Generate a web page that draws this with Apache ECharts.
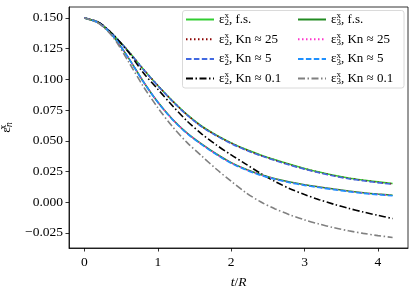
<!DOCTYPE html>
<html><head><meta charset="utf-8">
<script src="https://cdn.jsdelivr.net/npm/echarts@6/dist/echarts.min.js"></script>
<style>html,body{margin:0;padding:0;background:#fff}#c{width:415px;height:291px}</style>
</head><body><div id="c"></div>
<script>
const tVals = [0,0.2,0.4,0.6,0.8,1.0,1.2,1.4,1.6,1.8,2.0,2.2,2.4,2.6,2.8,3.0,3.2,3.4,3.6,3.8,4.0,4.2];
const e2_fs   = [0.150,0.1462,0.1358,0.1228,0.1085,0.0950,0.0825,0.0712,0.0618,0.0545,0.0483,0.0430,0.0385,0.0345,0.0308,0.0275,0.0245,0.0219,0.0197,0.0180,0.0165,0.0152];
const e2_kn25 = [0.150,0.1462,0.1358,0.1228,0.1085,0.0950,0.0824,0.0711,0.0616,0.0543,0.0481,0.0427,0.0382,0.0342,0.0305,0.0272,0.0242,0.0216,0.0194,0.0177,0.0162,0.0149];
const e2_kn5  = [0.150,0.1462,0.1358,0.1227,0.1083,0.0948,0.0822,0.0708,0.0613,0.0540,0.0477,0.0424,0.0379,0.0339,0.0302,0.0269,0.0239,0.0213,0.0191,0.0174,0.0159,0.0146];
const e2_kn01 = [0.150,0.1462,0.1358,0.1222,0.1055,0.0920,0.0785,0.0660,0.0555,0.0465,0.0385,0.0310,0.0235,0.0168,0.0110,0.0062,0.0020,-0.0017,-0.0050,-0.0080,-0.0107,-0.0133];
const e3_fs   = [0.150,0.1456,0.1345,0.1175,0.0985,0.0815,0.0675,0.0562,0.0472,0.0392,0.0322,0.0268,0.0225,0.0191,0.0164,0.0142,0.0124,0.0107,0.0091,0.0077,0.0066,0.0057];
const e3_kn25 = [0.150,0.1456,0.1345,0.1175,0.0985,0.0815,0.0674,0.0561,0.0471,0.0390,0.0320,0.0266,0.0223,0.0189,0.0162,0.0140,0.0122,0.0105,0.0089,0.0075,0.0064,0.0055];
const e3_kn5  = [0.150,0.1456,0.1345,0.1174,0.0983,0.0813,0.0672,0.0558,0.0468,0.0387,0.0317,0.0263,0.0220,0.0186,0.0159,0.0137,0.0119,0.0102,0.0086,0.0072,0.0061,0.0052];
const e3_kn01 = [0.150,0.1454,0.1335,0.1145,0.0945,0.0770,0.0615,0.0485,0.0375,0.0268,0.0170,0.0078,0.0003,-0.0055,-0.0103,-0.0144,-0.0178,-0.0208,-0.0233,-0.0254,-0.0272,-0.0287];
const xTicks = [0,1,2,3,4];
const yTicks = [-0.025,0,0.025,0.05,0.075,0.1,0.125,0.15];

const FONT = 'Liberation Serif';
const seriesDefs = [
  {id:'e2fs', idx:'2', label:'f.s.', data:e2_fs, color:'#32cd32', type:'solid'},
  {id:'e2k25', idx:'2', label:'Kn ≈ 25', data:e2_kn25, color:'#8b0000', type:[1.5,2.5]},
  {id:'e2k5', idx:'2', label:'Kn ≈ 5', data:e2_kn5, color:'#4169e1', type:[5.5,2.4]},
  {id:'e2k01', idx:'2', label:'Kn ≈ 0.1', data:e2_kn01, color:'#000000', type:[7,2.5,1.5,2.5]},
  {id:'e3fs', idx:'3', label:'f.s.', data:e3_fs, color:'#228b22', type:'solid'},
  {id:'e3k25', idx:'3', label:'Kn ≈ 25', data:e3_kn25, color:'#ff33cc', type:[1.5,2.5]},
  {id:'e3k5', idx:'3', label:'Kn ≈ 5', data:e3_kn5, color:'#1e90ff', type:[5.5,2.4]},
  {id:'e3k01', idx:'3', label:'Kn ≈ 0.1', data:e3_kn01, color:'#808080', type:[7,2.5,1.5,2.5]}
];
const labelMap = {};
seriesDefs.forEach(s => { labelMap[s.id] = '{e|ε}{sp|x}{sb|' + s.idx + '}{t|, ' + s.label + '}'; });

const richLeg = {
  e:{fontFamily:FONT,fontSize:13,lineHeight:16,verticalAlign:'middle',color:'#000'},
  sp:{fontFamily:FONT,fontSize:9,width:0,verticalAlign:'top',lineHeight:9,color:'#000'},
  sb:{fontFamily:FONT,fontSize:9,verticalAlign:'bottom',lineHeight:9,color:'#000'},
  t:{fontFamily:FONT,fontSize:13,lineHeight:16,verticalAlign:'middle',color:'#000'}
};
function mkLegend(ids, left) {
  return {
    data: ids, orient:'vertical', left:left, top:11.5, padding:0, itemGap:3.7,
    itemWidth:28, itemHeight:14, selectedMode:false, z:60,
    itemStyle:{opacity:0},
    formatter: n => labelMap[n],
    textStyle:{fontFamily:FONT,fontSize:13,color:'#000',rich:richLeg}
  };
}
const fmtMinus = v => String(v).replace('-', '−');
const option = {
  animation:false,
  backgroundColor:'#fff',
  grid:{left:69,right:7,top:7,bottom:43,show:true,borderColor:'#000',borderWidth:0.8,backgroundColor:'transparent',outerBoundsMode:'none'},
  graphic:[{type:'rect',shape:{x:182.5,y:10.5,width:221.5,height:77.5,r:2.5},style:{fill:'rgba(255,255,255,0.85)',stroke:'#d0d0d0',lineWidth:0.8},z:50}],
  legend:[mkLegend(['e2fs','e2k25','e2k5','e2k01'],185), mkLegend(['e3fs','e3k25','e3k5','e3k01'],297)],
  xAxis:{type:'value',min:-0.21,max:4.41,
    name:'{i|t}{n|/}{i|R}',nameLocation:'middle',nameGap:27,
    nameTextStyle:{rich:{i:{fontFamily:FONT,fontStyle:'italic',fontSize:13.5,color:'#000'},n:{fontFamily:FONT,fontSize:13.5,color:'#000'}}},
    axisLine:{show:true,onZero:false,lineStyle:{color:'#000',width:0.8}},
    axisTick:{show:true,length:3.5,inside:false,customValues:xTicks,lineStyle:{color:'#000',width:0.8}},
    axisLabel:{customValues:xTicks,margin:7,fontFamily:FONT,fontSize:13.5,color:'#000',formatter:v=>fmtMinus(v)},
    splitLine:{show:false}},
  yAxis:{type:'value',min:-0.0373,max:0.1589,
    name:'{e|ε}{sp|x}{sb|n}',nameLocation:'middle',nameGap:49,nameRotate:90,
    nameTextStyle:{rich:{
      e:{fontFamily:FONT,fontSize:13.5,lineHeight:16,verticalAlign:'middle',color:'#000'},
      sp:{fontFamily:FONT,fontSize:9.5,width:0,verticalAlign:'top',lineHeight:9,color:'#000'},
      sb:{fontFamily:FONT,fontStyle:'italic',fontSize:9.5,verticalAlign:'bottom',lineHeight:9,color:'#000'}}},
    axisLine:{show:true,onZero:false,lineStyle:{color:'#000',width:0.8}},
    axisTick:{show:true,length:3.5,inside:false,customValues:yTicks,lineStyle:{color:'#000',width:0.8}},
    axisLabel:{customValues:yTicks,margin:6,fontFamily:FONT,fontSize:13.5,color:'#000',formatter:v=>fmtMinus(v.toFixed(3))},
    splitLine:{show:false}},
  series: seriesDefs.map(s => ({
    name:s.id, type:'line', symbol:'none', smooth:0.3,
    data: tVals.map((t,i)=>[t,s.data[i]]),
    lineStyle:{color:s.color,width:1.6,type:s.type},
    itemStyle:{color:s.color}
  }))
};
echarts.init(document.getElementById('c')).setOption(option);
</script></body></html>
